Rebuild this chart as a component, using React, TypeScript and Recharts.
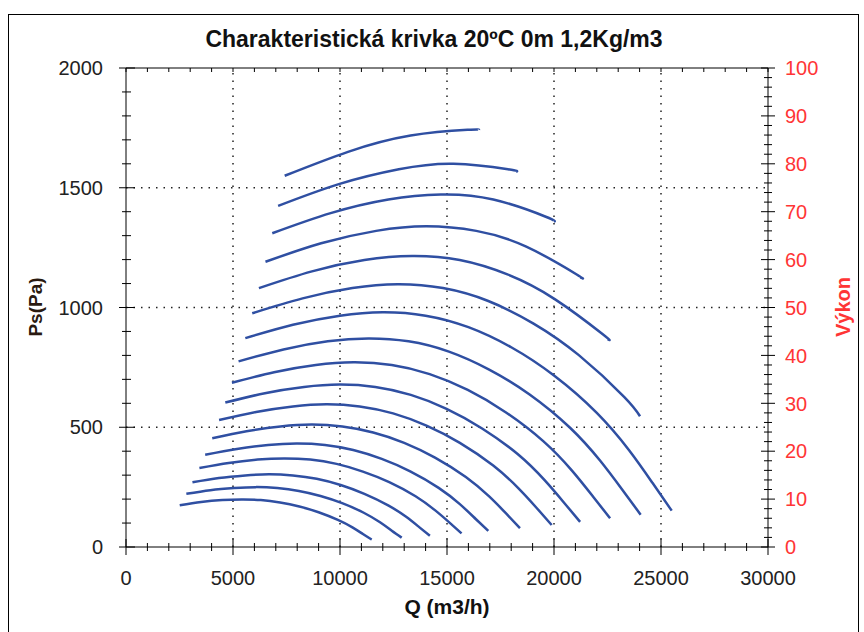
import React from "react";
import { LineChart, Line, XAxis, YAxis, ReferenceLine } from "recharts";

// axis labels
const qLabels = [0, 5000, 10000, 15000, 20000, 25000, 30000];
const psLabels = [0, 500, 1000, 1500, 2000];
const powerLabels = [0, 10, 20, 30, 40, 50, 60, 70, 80, 90, 100];
const qGrid = [5000, 10000, 15000, 20000, 25000];
const psGrid = [500, 1000, 1500];

// minor tick steps
const qTicks = Array.from({ length: 31 }, (_, i) => i * 1000);
const psTicks = Array.from({ length: 21 }, (_, i) => i * 100);
const powerTicks = Array.from({ length: 51 }, (_, i) => i * 2);

// fan curves, [Q m3/h, Ps Pa]
const curve01 = [[7415, 1550], [10374, 1650], [13300, 1718], [15960, 1742], [16495, 1742]];
const curve02 = [[7108, 1424], [9945, 1515], [12750, 1577], [15300, 1600], [17850, 1577], [18230, 1568]];
const curve03 = [[6835, 1310], [9563, 1394], [12260, 1451], [14712, 1472], [17164, 1451], [19616, 1379], [20000, 1359]];
const curve04 = [[6517, 1191], [9118, 1268], [11690, 1320], [14028, 1339], [16366, 1320], [18704, 1254], [21042, 1139], [21230, 1126]];
const curve05 = [[6211, 1081], [8689, 1151], [11140, 1198], [13368, 1215], [15596, 1198], [17824, 1138], [20052, 1034], [22280, 888], [22510, 868]];
const curve06 = [[5898, 976], [8252, 1038], [10580, 1081], [12696, 1097], [14812, 1081], [16928, 1027], [19044, 933], [21160, 801], [23276, 627], [24020, 546]];
const curve07 = [[5575, 872], [7800, 928], [10000, 966], [12000, 980], [14000, 966], [16000, 918], [18000, 834], [20000, 716], [22000, 560], [23500, 405], [24600, 268], [25500, 152]];
const curve08 = [[5260, 775], [7360, 825], [9430, 859], [11320, 871], [13200, 859], [15090, 816], [16970, 741], [18860, 637], [20750, 498], [22160, 360], [23200, 238], [24050, 135]];
const curve09 = [[4950, 686], [6920, 730], [8870, 760], [10640, 771], [12420, 760], [14190, 722], [15970, 656], [17740, 563], [19510, 441], [20840, 319], [21820, 211], [22620, 120]];
const curve10 = [[4640, 603], [6490, 642], [8320, 668], [9980, 678], [11650, 668], [13310, 635], [14980, 577], [16640, 495], [18300, 388], [19550, 280], [20470, 185], [21220, 105]];
const curve11 = [[4350, 530], [6080, 564], [7800, 587], [9360, 596], [10920, 587], [12480, 558], [14040, 507], [15600, 435], [17160, 340], [18330, 246], [19190, 163], [19890, 92]];
const curve12 = [[4030, 454], [5630, 483], [7220, 503], [8660, 511], [10110, 503], [11550, 478], [13000, 435], [14440, 373], [15880, 292], [16970, 211], [17760, 140], [18410, 79]];
const curve13 = [[3700, 385], [5180, 409], [6640, 426], [7970, 432], [9300, 426], [10620, 405], [11950, 368], [13280, 316], [14610, 247], [15600, 179], [16330, 118], [16930, 67]];
const curve14 = [[3430, 330], [4800, 351], [6150, 365], [7380, 370], [8610, 365], [9840, 347], [11070, 315], [12300, 271], [13530, 212], [14450, 153], [15130, 101], [15680, 57]];
const curve15 = [[3105, 270], [4340, 288], [5570, 299], [6680, 304], [7800, 299], [8910, 285], [10030, 259], [11140, 222], [12250, 174], [13090, 126], [13700, 83], [14200, 47]];
const curve16 = [[2820, 222], [3940, 237], [5050, 246], [6060, 250], [7070, 246], [8080, 234], [9090, 213], [10100, 183], [11110, 143], [11870, 103], [12420, 68], [12880, 39]];
const curve17 = [[2510, 174], [3510, 188], [4500, 196], [5400, 198], [6300, 196], [7200, 186], [8100, 169], [9000, 145], [9900, 113], [10580, 82], [11070, 54], [11480, 31]];

const curves = [
  curve01, curve02, curve03, curve04, curve05, curve06, curve07, curve08, curve09,
  curve10, curve11, curve12, curve13, curve14, curve15, curve16, curve17,
].map((c) => c.map(([q, p]) => ({ q, p })));

const FONT = "'Liberation Sans', Arial, sans-serif";
const RED = "#ff3535";
const BLUE = "#2f4fa2";

const BottomTick = (props: any) => {
  const { x, y, payload } = props;
  const major = qLabels.includes(payload.value);
  const l = major ? 8 : 4;
  return (
    <g>
      <line x1={x} x2={x} y1={y - l} y2={y + l} stroke="#000" />
      {major && (
        <text x={x} y={y + 38} textAnchor="middle" fontSize={20} fontFamily={FONT} fill="#222">
          {payload.value}
        </text>
      )}
    </g>
  );
};

const TopTick = (props: any) => {
  const { x, y } = props;
  return <line x1={x} x2={x} y1={y} y2={y + 4} stroke="#000" />;
};

const LeftTick = (props: any) => {
  const { x, y, payload } = props;
  const major = psLabels.includes(payload.value);
  return (
    <g>
      <line x1={x - (major ? 7 : 4)} x2={x + (major ? 9 : 5)} y1={y} y2={y} stroke="#000" />
      {major && (
        <text x={x - 23} y={y} dy="0.36em" textAnchor="end" fontSize={20} fontFamily={FONT} fill="#222">
          {payload.value}
        </text>
      )}
    </g>
  );
};

const RightTick = (props: any) => {
  const { x, y, payload } = props;
  const major = powerLabels.includes(payload.value);
  const l = major ? 7 : 4;
  return (
    <g>
      <line x1={x - l} x2={x + l} y1={y} y2={y} stroke="#000" />
      {major && (
        <text x={x + 17} y={y} dy="0.36em" textAnchor="start" fontSize={20} fontFamily={FONT} fill={RED}>
          {payload.value}
        </text>
      )}
    </g>
  );
};

export default function App() {
  return (
    <div style={{ position: "absolute", left: 0, top: 0, width: 864, height: 632, overflow: "hidden", background: "#fff", fontFamily: FONT }}>
      <div style={{ position: "absolute", left: 8, top: 14, width: 849, height: 640, border: "1px solid #000" }} />
      <div style={{ position: "absolute", left: 0, top: 26, width: 868, textAlign: "center", fontSize: 23, lineHeight: "26px", fontWeight: "bold", color: "#111" }}>
        Charakteristická krivka 20ºC 0m 1,2Kg/m3
      </div>
      <div style={{ position: "absolute", left: 347, top: 595, width: 200, textAlign: "center", fontSize: 21, lineHeight: "24px", fontWeight: "bold", color: "#111" }}>
        Q (m3/h)
      </div>
      <div style={{ position: "absolute", left: 36, top: 307, transform: "translate(-50%, -50%) rotate(-90deg)", fontSize: 19, fontWeight: "bold", color: "#2a1a10", whiteSpace: "nowrap" }}>
        Ps(Pa)
      </div>
      <div style={{ position: "absolute", left: 843, top: 307, transform: "translate(-50%, -50%) rotate(-90deg)", fontSize: 20, fontWeight: "bold", color: RED, whiteSpace: "nowrap" }}>
        Výkon
      </div>
      <div style={{ position: "absolute", left: 0, top: 0 }}>
        <LineChart width={864} height={632} margin={{ top: 48, right: 36, bottom: 45, left: 0 }}>
          <XAxis
            xAxisId="bottom"
            type="number"
            dataKey="q"
            domain={[0, 30000]}
            allowDataOverflow
            ticks={qTicks}
            interval={0}
            tickSize={0}
            tickMargin={0}
            tickLine={false}
            axisLine={{ stroke: "#000" }}
            tick={<BottomTick />}
            height={40}
          />
          <XAxis
            xAxisId="top"
            orientation="top"
            type="number"
            dataKey="q"
            domain={[0, 30000]}
            allowDataOverflow
            ticks={qTicks}
            interval={0}
            tickSize={0}
            tickMargin={0}
            tickLine={false}
            axisLine={{ stroke: "#000" }}
            tick={<TopTick />}
            height={20}
          />
          <YAxis
            yAxisId="left"
            type="number"
            domain={[0, 2000]}
            allowDataOverflow
            ticks={psTicks}
            interval={0}
            tickSize={0}
            tickMargin={0}
            tickLine={false}
            axisLine={{ stroke: "#000" }}
            tick={<LeftTick />}
            width={126}
          />
          <YAxis
            yAxisId="right"
            orientation="right"
            type="number"
            domain={[0, 100]}
            allowDataOverflow
            ticks={powerTicks}
            interval={0}
            tickSize={0}
            tickMargin={0}
            tickLine={false}
            axisLine={{ stroke: "#000" }}
            tick={<RightTick />}
            width={60}
          />
          {qGrid.map((v) => (
            <ReferenceLine key={"x" + v} x={v} xAxisId="bottom" yAxisId="left" stroke="#222" strokeWidth={1.5} strokeDasharray="1.5 6" />
          ))}
          {psGrid.map((v) => (
            <ReferenceLine key={"y" + v} y={v} xAxisId="bottom" yAxisId="left" stroke="#222" strokeWidth={1.5} strokeDasharray="1.5 6" />
          ))}
          {curves.map((c, i) => (
            <Line
              key={i}
              data={c}
              dataKey="p"
              xAxisId="bottom"
              yAxisId="left"
              type="natural"
              stroke={BLUE}
              strokeWidth={2.5}
              dot={false}
              activeDot={false}
              isAnimationActive={false}
            />
          ))}
        </LineChart>
      </div>
    </div>
  );
}
